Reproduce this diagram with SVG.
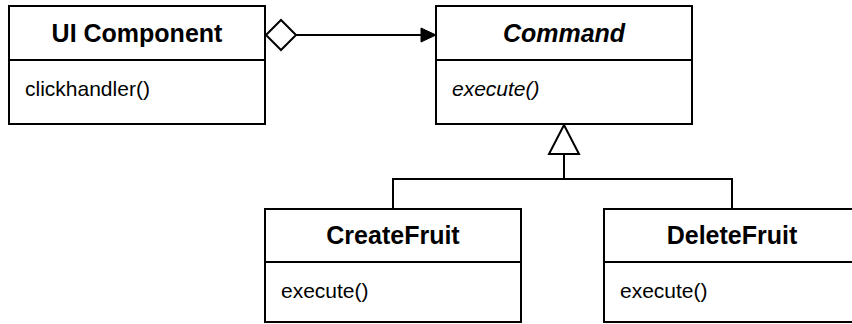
<svg xmlns="http://www.w3.org/2000/svg" width="852" height="324" viewBox="0 0 852 324">
<style>
.box{fill:#fff;stroke:#000;stroke-width:2}
.div{stroke:#000;stroke-width:2}
.title{font-family:"Liberation Sans",Arial,sans-serif;font-size:25px;font-weight:bold;text-anchor:middle;fill:#000}
.body{font-family:"Liberation Sans",Arial,sans-serif;font-size:21px;fill:#000}
.it{font-style:italic}
.conn{fill:none;stroke:#000;stroke-width:2}
</style>
<rect width="852" height="324" fill="#fff"/>
<g id="connectors">
<polygon points="266,35 281,20 296,35 281,50" fill="#fff" stroke="#000" stroke-width="2"/>
<line class="conn" x1="296" y1="35" x2="422" y2="35"/>
<polygon points="421,28 436,35 421,42" fill="#000" stroke="#000" stroke-width="1"/>
<polygon points="564,125 579,154 549,154" fill="#fff" stroke="#000" stroke-width="2"/>
<polyline class="conn" points="564,154 564,179"/>
<polyline class="conn" points="393,209 393,179 732,179 732,209"/>
</g>
<g id="ui-component">
<rect class="box" x="9" y="6" width="256" height="118"/>
<line class="div" x1="9" y1="60" x2="265" y2="60"/>
<text class="title" x="137" y="42">UI Component</text>
<text class="body" x="25" y="96">clickhandler()</text>
</g>
<g id="command">
<rect class="box" x="436" y="6" width="256" height="118"/>
<line class="div" x1="436" y1="60" x2="692" y2="60"/>
<text class="title it" x="564" y="42">Command</text>
<text class="body it" x="452" y="96">execute()</text>
</g>
<g id="create-fruit">
<rect class="box" x="265" y="209" width="256" height="113"/>
<line class="div" x1="265" y1="262" x2="521" y2="262"/>
<text class="title" x="393" y="244">CreateFruit</text>
<text class="body" x="281" y="298">execute()</text>
</g>
<g id="delete-fruit">
<rect class="box" x="604" y="209" width="256" height="113"/>
<line class="div" x1="604" y1="262" x2="860" y2="262"/>
<text class="title" x="732" y="244">DeleteFruit</text>
<text class="body" x="620" y="298">execute()</text>
</g>
</svg>
